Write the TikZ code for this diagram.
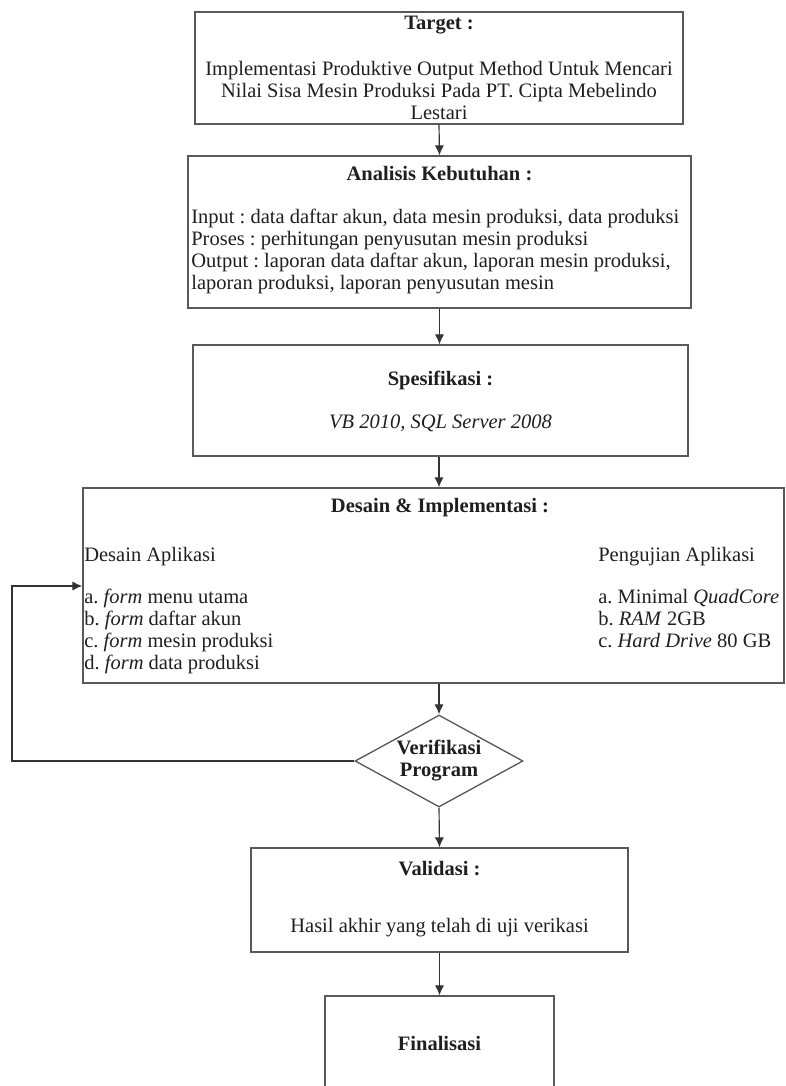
\documentclass[tikz,border=0pt]{standalone}
\usepackage{fontspec}
\setmainfont{Liberation Serif}
\usepackage{tikz}
\usetikzlibrary{shapes.geometric, arrows.meta, calc}

\definecolor{garis}{gray}{0.35}
\definecolor{tulisan}{gray}{0.12}
\frenchspacing

\tikzset{
  kotak/.style 2 args={draw=garis, line width=0.8pt, minimum width=#1*0.6pt, minimum height=#2*0.6pt, inner sep=0pt},
  judul/.style={font=\fontsize{12.3}{13.2}\selectfont\bfseries, text=tulisan},
  isi/.style={align=center, text=tulisan, inner sep=0pt},
  panah/.style={draw=black!80, line width=0.7pt, -{Latex[length=6pt,width=5.5pt]}}
}

\begin{document}
\begin{tikzpicture}[x=0.6pt, y=-0.6pt, font=\fontsize{12.3}{13.2}\selectfont]
    \useasboundingbox (0,0) rectangle (785,1086);
    % kotak-kotak
    \node (tgt) [kotak={488}{112}] at (439,68) {};
    \node (ana) [kotak={503}{152}] at (439.5,232) {};
    \node (spek) [kotak={495}{111}] at (440.5,400.5) {};
    \node (desain) [kotak={701}{195}] at (433.5,585.5) {};
    \node (verif) [draw=garis, line width=0.8pt, diamond, inner sep=0pt, minimum width=168*0.6pt, minimum height=92*0.6pt] at (439,761) {};
    \node (valid) [kotak={377}{104}] at (439.5,900) {};
    \node (final) [kotak={229}{120}] at (439.5,1056) {};

    % tulisan
    \node (tgtjudul) [judul] at (439,25) {Target :};
    \node (tgtisi) [isi] at (439,90) {Implementasi Produktive Output Method Untuk Mencari\\Nilai Sisa Mesin Produksi Pada PT. Cipta Mebelindo\\Lestari};
    \node (anajudul) [judul] at (439.5,174) {Analisis Kebutuhan :};
    \node (anaisi) [isi, align=left, anchor=west] at (191,251) {Input : data daftar akun, data mesin produksi, data produksi\\Proses : perhitungan penyusutan mesin produksi\\Output : laporan data daftar akun, laporan mesin produksi,\\laporan produksi, laporan penyusutan mesin};
    \node (spekjudul) [judul] at (440.5,380) {Spesifikasi :};
    \node (spekisi) [isi, font=\fontsize{12.3}{13.2}\selectfont\itshape] at (440.5,423) {VB 2010, SQL Server 2008};
    \node (desjudul) [judul] at (440,508) {Desain \& Implementasi :};
    \node (deskiri) [isi, align=left, anchor=west] at (84,611) {Desain Aplikasi\\[12pt]a. \textit{form} menu utama\\b. \textit{form} daftar akun\\c. \textit{form} mesin produksi\\d. \textit{form} data produksi};
    \node (deskanan) [isi, align=left, anchor=west] at (598,598) {Pengujian Aplikasi\\[12pt]a. Minimal \textit{QuadCore}\\b. \textit{RAM} 2GB\\c. \textit{Hard Drive} 80 GB};
    \node (verifisi) [judul, align=center] at (verif) {Verifikasi\\Program};
    \node (validjudul) [judul] at (439.5,869) {Validasi :};
    \node (validisi) [isi] at (439.5,928) {Hasil akhir yang telah di uji verikasi};
    \node (finaljudul) [judul] at (439.5,1043) {Finalisasi};

    % panah
    \coordinate (balik) at (12,586);
    \draw[panah] (tgt.south) -- (ana.north);
    \draw[panah] (ana.south) -- (ana.south |- spek.north);
    \draw[panah] (spek.south -| verif) -- (verif |- desain.north);
    \draw[panah] (verif |- desain.south) -- (verif.north);
    \draw[panah] (verif.west) -| (balik) -- (balik -| desain.west);
    \draw[panah] (verif.south) -- (valid.north);
    \draw[panah] (valid.south) -- (final.north);
\end{tikzpicture}
\end{document}
